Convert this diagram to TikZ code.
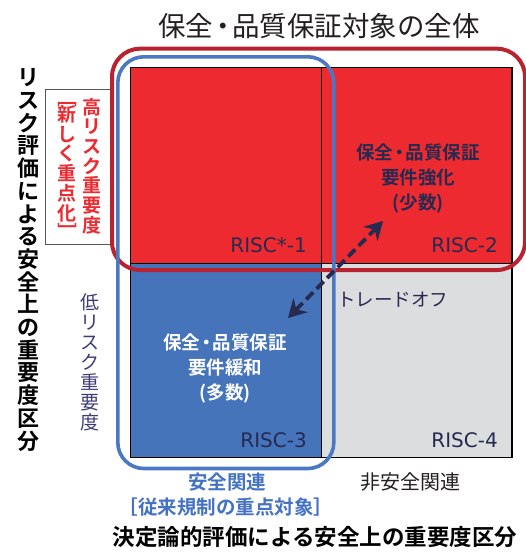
\documentclass[tikz,border=0pt]{standalone}
\usepackage{fontspec}
\setmainfont{Noto Sans CJK JP}[BoldFont={Noto Sans CJK JP Bold}]
\newfontfamily\riscfont{DejaVu Sans}
\usetikzlibrary{arrows.meta}
\newcommand\nkdot{\kern-0.16em・\kern-0.16em}
\definecolor{cred}{HTML}{EC2A30}
\definecolor{cdred}{HTML}{B8232F}
\definecolor{cblue}{HTML}{4674BA}
\definecolor{cblueline}{HTML}{4A78C2}
\definecolor{cgray}{HTML}{DCDDDF}
\definecolor{cnavy}{HTML}{262A50}
\definecolor{ctext}{HTML}{231F20}
\definecolor{cbtext}{HTML}{4472C4}
\definecolor{cpurple}{HTML}{3D3B78}
\definecolor{cboxline}{HTML}{555555}
\begin{document}
\begin{tikzpicture}[x=1pt,y=-1pt,
  cellbox/.style={draw=black,line width=1.1pt,inner sep=0,anchor=north west,minimum width=190.7pt},
  risclbl/.style={font=\riscfont\fontsize{20}{20}\selectfont,text=cnavy,inner sep=0,anchor=base east},
  zone/.style={inner sep=0,anchor=north west},
  vtext/.style={inner sep=0,align=center},
  celltext/.style={inner sep=0,align=center,font=\bfseries\fontsize{18.5}{25}\selectfont},
  tradearrow/.style={draw=cnavy,line width=3.8pt,dash pattern=on 10pt off 5pt,
     {Stealth[length=18pt,width=20pt,inset=6pt]}-{Stealth[length=18pt,width=20pt,inset=6pt]}}
]
\useasboundingbox (0,0) rectangle (526,552);
% title
\node[inner sep=0,text=ctext,font=\fontsize{27.5}{27.5}\selectfont] (title) at (319,26) {保全\nkdot 品質保証対象の全体};
% high-risk box
\node[zone,draw=cboxline,line width=0.9pt,minimum width=66pt,minimum height=155pt] (hbox) at (45,89) {};
% cells
\node[cellbox,fill=cred,minimum height=196pt] (r1) at (130,66.7) {};
\node[cellbox,fill=cred,minimum height=196pt] (r2) at (320.7,66.7) {};
\node[cellbox,fill=cblue,minimum height=194.6pt] (r3) at (130,262.7) {};
\node[cellbox,fill=cgray,minimum height=194.6pt] (r4) at (320.7,262.7) {};
% RISC labels
\node[risclbl] (l1) at (307,252) {RISC*-1};
\node[risclbl] (l2) at (498,252) {RISC-2};
\node[risclbl] (l3) at (307,447) {RISC-3};
\node[risclbl] (l4) at (498,447) {RISC-4};
% cell texts
\node[celltext,text=cnavy] (t2) at (418,178) {保全\nkdot 品質保証\\要件強化\\(少数)};
\node[celltext,text=white] (t3) at (225,368) {保全\nkdot 品質保証\\要件緩和\\(多数)};
\node[inner sep=0,anchor=west,text=cnavy,font=\fontsize{18.5}{18.5}\selectfont] (to) at (337,300) {トレードオフ};
% zones
\node[zone,draw=cdred,line width=4pt,rounded corners=28pt,minimum width=413pt,minimum height=221.3pt] (redzone) at (110,46.7) {};
\node[zone,draw=cblueline,line width=3.6pt,rounded corners=26pt,minimum width=216pt,minimum height=411.7pt] (bluezone) at (116,55) {};
% arrow
\coordinate (alow) at (288,318);
\coordinate (ahigh) at (383,221);
\draw[tradearrow] (alow) -- (ahigh);
% left labels
\node[vtext,text=black,font=\bfseries\fontsize{22}{22.7}\selectfont] (yaxis) at (28,260)
  {リ\\ス\\ク\\評\\価\\に\\よ\\る\\安\\全\\上\\の\\重\\要\\度\\区\\分};
\node[vtext,text=cred,font=\bfseries\fontsize{19}{19.7}\selectfont] (hr) at (92,166)
  {高\\リ\\ス\\ク\\重\\要\\度};
\node[vtext,text=cred,font=\bfseries\fontsize{19}{19.7}\selectfont] (nk) at (67,166)
  {\rotatebox[origin=c]{-90}{[}\\[-8pt]新\\し\\く\\重\\点\\化\\[-8pt]\rotatebox[origin=c]{-90}{]}};
\node[vtext,text=cpurple,font=\fontsize{19}{20}\selectfont] (lr) at (90,362)
  {低\\リ\\ス\\ク\\重\\要\\度};
% bottom labels
\node[inner sep=0,text=cbtext,font=\bfseries\fontsize{19.5}{19.5}\selectfont] (sa) at (227,482) {安全関連};
\node[inner sep=0,text=cbtext,font=\bfseries\fontsize{19.5}{19.5}\selectfont] (sb) at (226,507) {［従来規制の重点対象］};
\node[inner sep=0,text=ctext,font=\fontsize{20}{20}\selectfont] (ns) at (410,482) {非安全関連};
\node[inner sep=0,text=black,font=\bfseries\fontsize{22.5}{22.5}\selectfont] (xaxis) at (315,537) {決定論的評価による安全上の重要度区分};
\end{tikzpicture}
\end{document}
